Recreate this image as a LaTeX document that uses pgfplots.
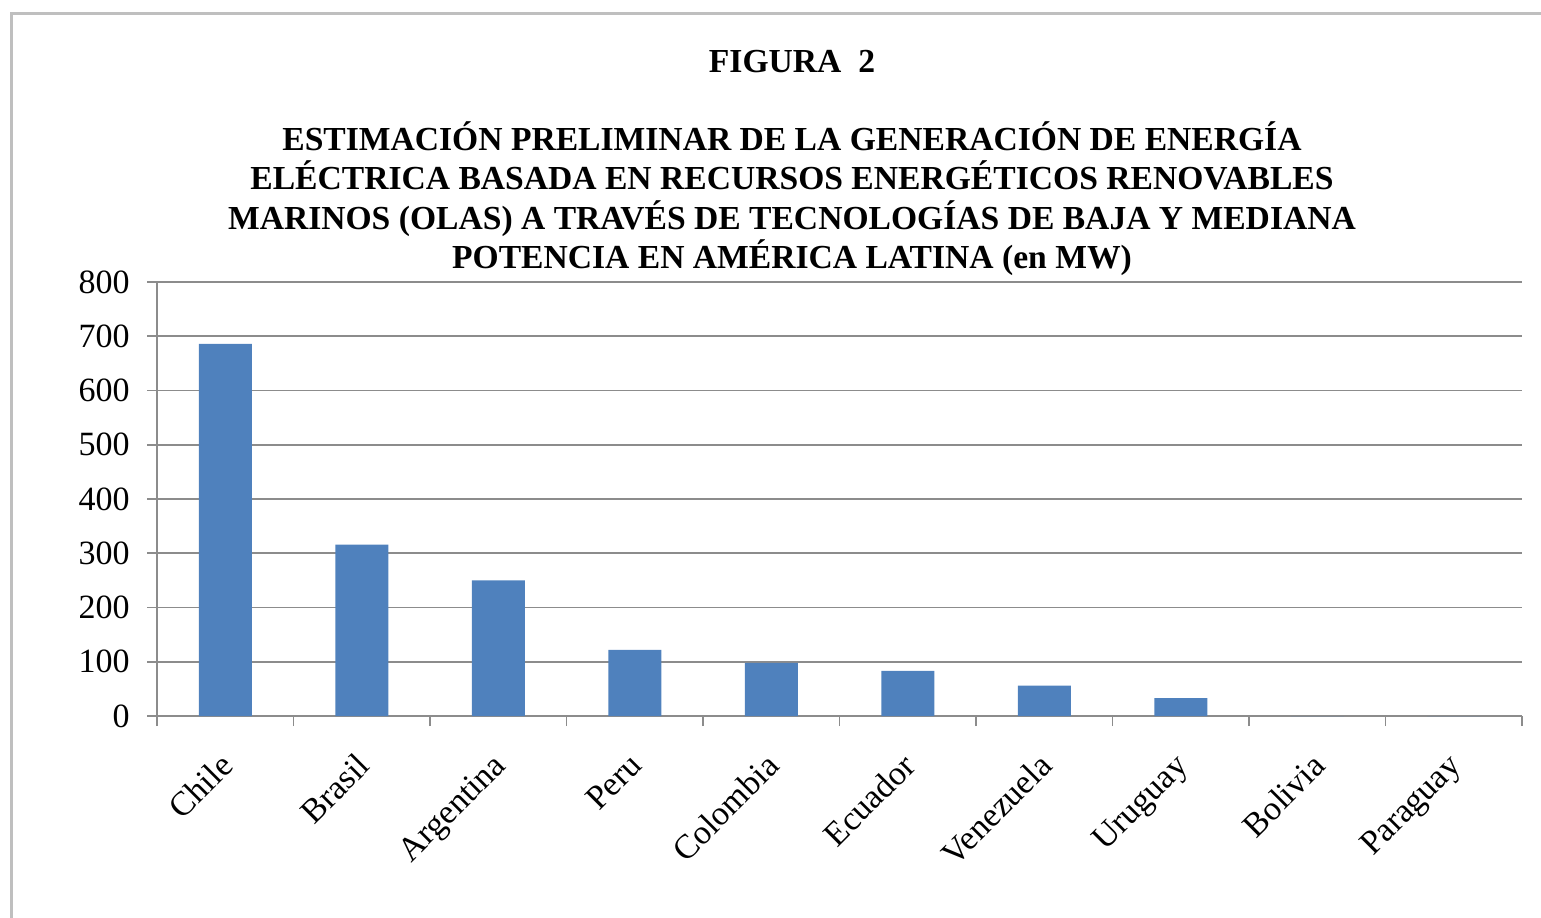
\documentclass[border=0pt]{standalone}
\usepackage{pgfplots}
\pgfplotsset{compat=1.18}
\usepackage{fontspec}
\setmainfont{Liberation Serif}
\definecolor{barblue}{HTML}{4F81BD}
\definecolor{gridgray}{HTML}{8C8C8C}
\definecolor{framegray}{HTML}{BFBFBF}
\begin{document}
\begin{tikzpicture}
\draw[framegray, line width=1.5pt] (5.5pt,-460pt) -- (5.5pt,-6.5pt) -- (772pt,-6.5pt);
\begin{axis}[
  at={(78.5pt,-358pt)}, anchor=south west,
  width=682.5pt, height=217pt, scale only axis,
  xmin=-0.5, xmax=9.5, ymin=0, ymax=800,
  xtick={0,...,9},
  xticklabels={Chile,Brasil,Argentina,Peru,Colombia,Ecuador,Venezuela,Uruguay,Bolivia,Paraguay},
  minor xtick={-0.5,0.5,...,9.5},
  ytick={0,100,...,800},
  ymajorgrids, grid style={gridgray, line width=0.8pt},
  axis x line*=bottom, axis y line*=left,
  axis line style={gridgray, line width=0.8pt, -},
  tick align=outside,
  major tick length=5pt, minor tick length=5pt,
  major x tick style={draw=none},
  minor x tick style={gridgray, line width=0.8pt},
  y tick style={gridgray, line width=0.8pt},
  /pgf/number format/assume math mode=true,
  yticklabel style={font=\fontsize{17}{20}\selectfont, inner sep=0pt, xshift=-8.5pt},
  xticklabel style={font=\fontsize{17}{20}\selectfont, xshift=-3.5pt, yshift=-12.5pt, rotate=45, anchor=north east, inner sep=0pt},
  ybar, bar width=26.5pt,
]
\addplot[fill=barblue, draw=none] coordinates {(0,686) (1,316) (2,250) (3,122) (4,98) (5,83) (6,56) (7,33) (8,0) (9,0)};
\end{axis}
\begin{scope}[font=\bfseries\fontsize{16.8}{19.6}\selectfont]
\node[anchor=base, inner sep=0pt] at (396pt,-36pt) {FIGURA\ \ 2};
\node[anchor=base, inner sep=0pt] at (396pt,-75pt) {ESTIMACIÓN PRELIMINAR DE LA GENERACIÓN DE ENERGÍA};
\node[anchor=base, inner sep=0pt] at (396pt,-94.5pt) {ELÉCTRICA BASADA EN RECURSOS ENERGÉTICOS RENOVABLES};
\node[anchor=base, inner sep=0pt] at (396pt,-114.5pt) {MARINOS (OLAS) A TRAVÉS DE TECNOLOGÍAS DE BAJA Y MEDIANA};
\node[anchor=base, inner sep=0pt] at (396pt,-134pt) {POTENCIA EN AMÉRICA LATINA (en MW)};
\end{scope}
\pgfresetboundingbox
\useasboundingbox (0pt,0pt) rectangle (770.5pt,-458.5pt);
\end{tikzpicture}
\end{document}
